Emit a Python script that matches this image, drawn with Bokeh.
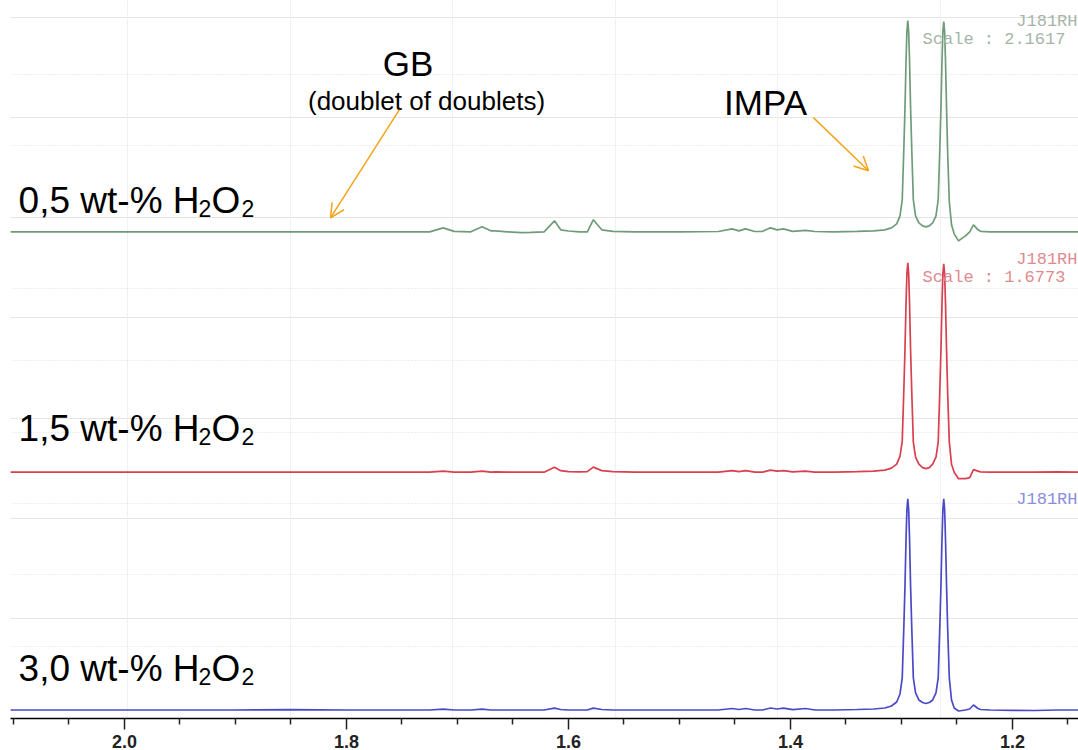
from bokeh.plotting import figure
from bokeh.models import Range1d, FixedTicker, Grid, Arrow, OpenHead, NumeralTickFormatter
from bokeh.core.properties import value
from bokeh.embed import file_html
from bokeh.resources import INLINE

# ---------------- data (chemical shift in ppm, intensity in arbitrary units) ----------------
ppm = [2.103, 2.05, 2.00, 1.95, 1.90, 1.85, 1.80, 1.76, 1.725, 1.7129,
       1.703, 1.688, 1.6778, 1.670, 1.6658, 1.655, 1.642, 1.634, 1.622, 1.6126,
       1.607, 1.600, 1.590, 1.583, 1.5777, 1.570, 1.560, 1.54, 1.50, 1.465,
       1.4525, 1.4465, 1.4405, 1.432, 1.425, 1.418, 1.412, 1.4063, 1.398, 1.3865,
       1.378, 1.36, 1.34, 1.325, 1.315, 1.309, 1.3043, 1.3013, 1.2993, 1.2978,
       1.2968, 1.2959, 1.2951, 1.2943, 1.2935, 1.2927, 1.2918, 1.2908, 1.2893, 1.2873,
       1.2843, 1.281, 1.278, 1.2749, 1.2719, 1.2689, 1.2669, 1.2654, 1.2644, 1.2635,
       1.2627, 1.2619, 1.2611, 1.2603, 1.2594, 1.2584, 1.2569, 1.2549, 1.2525, 1.2486,
       1.2423, 1.2385, 1.2351, 1.2310, 1.2288, 1.22, 1.20, 1.18, 1.16, 1.1405]

int_05 = [0, 0, 0, 0, 0, 0, 0, 0, 0, 4,
          0.5, 0, 5, 1, 1, 0, -0.8, -0.5, 0, 11,
          2, 0.8, 0, 0, 12, 2, 0.5, 0, 0, 0.3,
          3, 1, 3, 0.3, 0.5, 4, 2, 3, 0.5, 1.5,
          0.3, 0, 0.5, 1, 2, 4, 8, 16, 32, 85,
          125, 170, 200, 211, 200, 170, 125, 85, 32, 16,
          9, 6, 5, 6, 9, 16, 32, 85, 125, 170,
          200, 210, 200, 170, 125, 80, 30, 7, -2, -9,
          -4, 0, 7, 2, 0.5, 0, 0, 0, 0, 0]

int_15 = [0, 0, 0, 0, 0, 0, 0, 0, 0, 1,
          0, 0, 1, 0, 0.3, 0, 0, 0, 0, 5,
          1.5, 0.6, 0.3, 0.5, 5, 1.5, 0.5, 0, 0, 0,
          1.5, 0.5, 1.5, 0, 0, 2, 1, 1.5, 0.3, 1,
          0, 0, 0.5, 1, 2, 4, 8, 16, 31, 84,
          124, 168, 198, 209, 198, 168, 123, 83, 30, 15,
          8, 4.5, 3.5, 4.5, 8, 15, 30, 83, 123, 168,
          198, 208, 198, 168, 123, 80, 30, 8, 0, -6.5,
          -6.5, -5.5, 2.5, 1, 0.3, 0, 0, 0, 0.3, 0]

int_30 = [0, 0, 0, 0, 0, 0.3, 0, 0, 0, 0.8,
          0, 0, 0.8, 0, 0, 0, 0, 0, 0, 1.8,
          0.5, 0, 0, 0, 1.8, 0.5, 0, 0, 0, 0,
          1.5, 0.5, 1.5, 0, 0, 2, 1, 1.8, 0.3, 1.5,
          0, 0, 0.5, 1, 2, 4, 8, 16, 32, 85,
          125, 170, 200, 211, 200, 170, 125, 85, 32, 17,
          10, 7.5, 6.5, 7.5, 10, 17, 32, 85, 125, 170,
          200, 211, 200, 170, 125, 82, 32, 10, 2, -1,
          0, 1, 5, 1.5, 0.5, 0, -0.3, -0.5, 0, 0]

sample_labels = ["0,5 wt-% H", "1,5 wt-% H", "3,0 wt-% H"]
scale_labels = ["Scale : 2.1617", "Scale : 1.6773", None]
major_ticks = [2.0, 1.8, 1.6, 1.4, 1.2]
minor_ticks = [2.10, 2.05, 1.95, 1.90, 1.85, 1.75, 1.70, 1.65, 1.55, 1.50, 1.45,
               1.35, 1.30, 1.25, 1.15]

# ---------------- layout / style ----------------
offsets = [486, 246, 8.5]              # vertical stacking of the three spectra
trace_colors = ["#6f9c78", "#d8404f", "#4a4ac8"]
tag_colors = ["#a6b5a8", "#e08a90", "#8c8ce0"]
label_base = [517, 290, 50]            # baseline of the sample labels
tag_base = [696, 458, 219]             # baseline of the "J181RH" tags
orange = "#f5a31a"

p = figure(width=1078, height=750,
           x_range=Range1d(2.1027, 1.1405), y_range=Range1d(0, 717),
           output_backend="svg", toolbar_location=None,
           y_axis_location=None,
           min_border_left=10, min_border_right=0, min_border_top=0, min_border_bottom=0)
p.outline_line_color = None
p.xgrid.grid_line_color = None
p.background_fill_color = "white"

# faint grid
p.add_layout(Grid(dimension=0,
                  ticker=FixedTicker(ticks=[1.9973, 1.8505, 1.7045, 1.5577, 1.4117, 1.2649]),
                  grid_line_color="#f1f1f1", grid_line_width=1))
p.add_layout(Grid(dimension=1,
                  ticker=FixedTicker(ticks=[72, 143.5, 215, 286, 357.5, 429, 500.5, 572, 643.5]),
                  grid_line_color="#dcdcdc", grid_line_width=1, grid_line_dash="1 2"))

# spectra
for vals, off, col in zip([int_05, int_15, int_30], offsets, trace_colors):
    p.line(ppm, [v + off for v in vals], line_color=col, line_width=1.7)

# x axis
ax = p.xaxis[0]
ax.ticker = FixedTicker(ticks=major_ticks, minor_ticks=minor_ticks)
ax.formatter = NumeralTickFormatter(format="0.0")
ax.axis_line_color = "black"
ax.axis_line_width = 1.5
ax.major_tick_line_color = "#222222"
ax.minor_tick_line_color = "#222222"
ax.major_tick_line_width = 1.5
ax.minor_tick_line_width = 1.5
ax.major_tick_in = 0
ax.major_tick_out = 11
ax.minor_tick_in = 0
ax.minor_tick_out = 6
ax.major_label_text_font = "Liberation Sans"
ax.major_label_text_font_style = "bold"
ax.major_label_text_font_size = "18px"
ax.major_label_text_color = "#222222"
ax.major_label_standoff = 5

font = value("Liberation Sans")
# sample labels with subscripts
for lab, yb in zip(sample_labels, label_base):
    p.text(x=[1.9324], y=[yb], text=[lab], text_font=font, text_font_size="37px",
           text_align="right", text_baseline="alphabetic", text_color="black")
    p.text(x=[1.9333], y=[yb - 8], text=["2"], text_font=font, text_font_size="23px",
           text_align="left", text_baseline="alphabetic", text_color="black")
    p.text(x=[1.9216], y=[yb], text=["O"], text_font=font, text_font_size="37px",
           text_align="left", text_baseline="alphabetic", text_color="black")
    p.text(x=[1.8946], y=[yb - 8], text=["2"], text_font=font, text_font_size="23px",
           text_align="left", text_baseline="alphabetic", text_color="black")

# NMR software tags
mono = value("Liberation Mono")
for i, (yb, col) in enumerate(zip(tag_base, tag_colors)):
    p.text(x=[1.1414], y=[yb], text=["J181RH"], text_font=mono, text_font_size="17px",
           text_align="right", text_baseline="alphabetic", text_color=col)
    if scale_labels[i]:
        p.text(x=[1.1523], y=[yb - 18], text=[scale_labels[i]], text_font=mono,
               text_font_size="17px", text_align="right", text_baseline="alphabetic",
               text_color=col)

# annotations
p.text(x=[1.7446], y=[653.7], text=["GB"], text_font=font, text_font_size="35px",
       text_align="center", text_baseline="alphabetic", text_color="black")
p.text(x=[1.7279], y=[617], text=["(doublet of doublets)"], text_font=font,
       text_font_size="26px", text_align="center", text_baseline="alphabetic",
       text_color="black")
p.text(x=[1.4225], y=[615.3], text=["IMPA"], text_font=font, text_font_size="35px",
       text_align="center", text_baseline="alphabetic", text_color="black")

p.add_layout(Arrow(end=OpenHead(size=14, line_color=orange, line_width=1.5),
                   x_start=1.7523, y_start=608, x_end=1.8144, y_end=500,
                   line_color=orange, line_width=1.5))
p.add_layout(Arrow(end=OpenHead(size=14, line_color=orange, line_width=1.5),
                   x_start=1.3793, y_start=600, x_end=1.3297, y_end=547,
                   line_color=orange, line_width=1.5))

open("out.html", "w").write(file_html(p, INLINE))
